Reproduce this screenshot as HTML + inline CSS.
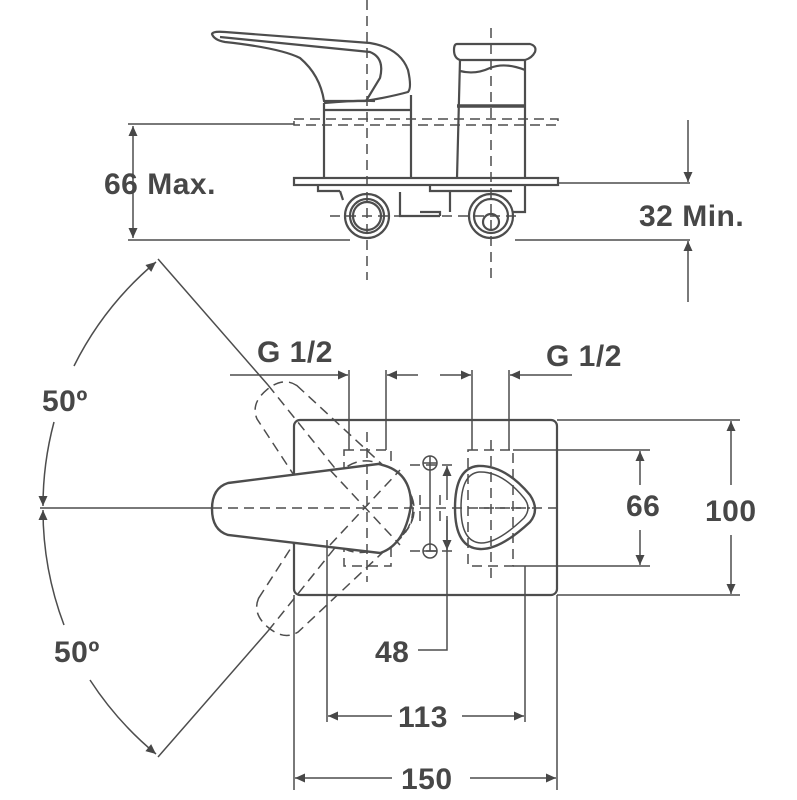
<!DOCTYPE html>
<html><head><meta charset="utf-8"><style>
html,body{margin:0;padding:0;background:#fff}
svg{display:block}
text{font-family:"Liberation Sans",sans-serif;font-weight:bold;fill:#474747;letter-spacing:0.5px}
</style></head><body>
<svg width="797" height="800" viewBox="0 0 797 800" xmlns="http://www.w3.org/2000/svg">
<defs>
<marker id="a" viewBox="0 0 10 10" refX="10" refY="5" markerWidth="22" markerHeight="10" markerUnits="userSpaceOnUse" orient="auto-start-reverse"><path d="M0,0.5 L10,5 L0,9.5 Z" fill="#474747"/></marker>
</defs>
<g stroke="#4d4d4d" fill="none" stroke-width="1.5">
<!-- TOP VIEW -->
<line x1="367" y1="0" x2="367" y2="280" stroke-dasharray="10,6"/>
<line x1="491" y1="28" x2="491" y2="280" stroke-dasharray="10,6"/>
<line x1="128" y1="124" x2="294" y2="124"/>
<line x1="128" y1="240" x2="350" y2="240"/>
<line x1="515" y1="240" x2="690" y2="240"/>
<line x1="558" y1="183" x2="690" y2="183"/>
<line x1="133" y1="126" x2="133" y2="238" marker-start="url(#a)" marker-end="url(#a)"/>
<line x1="688" y1="120" x2="688" y2="182" marker-end="url(#a)"/>
<line x1="688" y1="302" x2="688" y2="241" marker-end="url(#a)"/>
<g stroke-width="2.2">
<path d="M212,34 Q213,31 225,32 L370,43 Q400,48 408,70 Q412,88 408,92 Q390,97 365,101 L324,101 Q320,75 300,58 Q280,48 225,42 Q214,40 212,34 Z"/>
<path d="M220,37 L370,52 Q385,58 380,78 L366,101"/>
<path d="M324,103 L324,178 M411,95 L411,178 M324,110 L411,110 M324,103 Q360,100 375,101"/>
<path d="M457,44 L530,44 Q537,46 535,52 Q532,58 525,60 L460,60 Q454,58 454,50 Q454,44 457,44 Z"/>
<path d="M460,60 L457,178 M525,60 L525,178 M460,71 Q475,75 490,68 Q505,62 525,70"/>
<line x1="457" y1="106" x2="525" y2="106" stroke-width="3.5"/>
<rect x="294" y="178" width="264" height="7"/>
<path d="M318,185 L318,191 L340,191 M430,185 L430,191 L512,191 M450,191 L450,212 M525,185 L525,212 L512,212 M340,191 L343,200 M400,192 L400,216 L440,216 M420,212 L440,212 L440,216"/>
<circle cx="367" cy="216" r="22"/><circle cx="367" cy="216" r="17"/><circle cx="367" cy="216" r="14"/>
<circle cx="491" cy="216" r="22"/><circle cx="491" cy="216" r="17"/><circle cx="491" cy="222" r="8"/>
</g>
<rect x="294" y="119" width="264" height="6" stroke-dasharray="10,6"/>
<line x1="330" y1="216" x2="520" y2="216" stroke-dasharray="10,6"/>

<!-- BOTTOM VIEW -->
<line x1="40" y1="508" x2="212" y2="508"/>
<line x1="212" y1="508" x2="560" y2="508" stroke-dasharray="10,6"/>
<rect x="294" y="420" width="263" height="175" rx="6" stroke-width="2.2"/>
<line x1="158" y1="259" x2="268" y2="385"/>
<line x1="158" y1="757" x2="268" y2="631"/>
<line x1="268" y1="385" x2="367" y2="508" stroke-dasharray="10,6"/>
<line x1="268" y1="631" x2="367" y2="508" stroke-dasharray="10,6"/>
<path d="M74,366 A325,325 0 0 1 156,262" marker-end="url(#a)"/>
<path d="M54,422 A325,325 0 0 0 43,506" marker-end="url(#a)"/>
<path d="M64,625 A325,325 0 0 1 43,510" marker-end="url(#a)"/>
<path d="M90,680 A325,325 0 0 0 156,754" marker-end="url(#a)"/>
<g stroke-dasharray="10,6">
<path transform="rotate(50 367 508)" d="M228,483 L378,464 Q411,470 411,505 Q405,545 380,553 L228,535 Q212,530 212,509 Q212,488 228,483 Z"/>
<path transform="rotate(-50 367 508)" d="M228,483 L378,464 Q411,470 411,505 Q405,545 380,553 L228,535 Q212,530 212,509 Q212,488 228,483 Z"/>
<circle cx="370" cy="508" r="43"/>
<rect x="344" y="450" width="47" height="116"/>
<rect x="468" y="450" width="45" height="116"/>
<line x1="367" y1="432" x2="367" y2="582"/>
<line x1="491" y1="440" x2="491" y2="578"/>
<path d="M410,465 L455,465 M410,551 L455,551 M420,495 L420,521 M440,495 L440,521"/>
</g>
<path d="M349,370 L349,450 M386,370 L386,450 M472,370 L472,450 M509,370 L509,450"/>
<line x1="230" y1="375" x2="348" y2="375" marker-end="url(#a)"/>
<line x1="418" y1="375" x2="387" y2="375" marker-end="url(#a)"/>
<line x1="440" y1="375" x2="471" y2="375" marker-end="url(#a)"/>
<line x1="572" y1="375" x2="510" y2="375" marker-end="url(#a)"/>
<path stroke-width="2.4" fill="#fff" d="M228,483 L378,464 Q411,470 411,505 Q405,545 380,553 L228,535 Q212,530 212,509 Q212,488 228,483 Z"/>
<path d="M367,464 L367,553" stroke-dasharray="10,6"/>
<line x1="212" y1="508" x2="411" y2="508" stroke-dasharray="10,6"/>
<path d="M330,470 L400,545 M330,545 L400,470" stroke-dasharray="10,6"/>
<path stroke-width="2.4" d="M478,466 Q455,468 455,508 Q455,548 480,549 Q500,550 530,522 Q540,510 530,495 Q505,465 478,466 Z"/>
<path d="M479,472 Q461,474 461,508 Q461,542 481,543 Q498,543 524,518 Q532,508 524,498 Q502,471 479,472 Z"/>
<line x1="479" y1="508" x2="530" y2="508" stroke-dasharray="10,6"/>
<circle cx="430" cy="463" r="7"/><circle cx="430" cy="551" r="7"/>
<path d="M430,456 L430,551 M423,463 L437,463 M423,551 L437,551"/>
<line x1="447" y1="500" x2="447" y2="466" marker-end="url(#a)"/>
<line x1="447" y1="516" x2="447" y2="550" marker-end="url(#a)"/>
<path d="M447,520 L447,650 L418,650"/>
<path d="M513,450 L650,450 M513,566 L650,566 M557,420 L740,420 M557,595 L740,595"/>
<line x1="640" y1="485" x2="640" y2="451" marker-end="url(#a)"/>
<line x1="640" y1="530" x2="640" y2="565" marker-end="url(#a)"/>
<line x1="731" y1="485" x2="731" y2="421" marker-end="url(#a)"/>
<line x1="731" y1="535" x2="731" y2="594" marker-end="url(#a)"/>
<path d="M327,540 L327,722 M525,566 L525,722 M294,595 L294,790 M557,595 L557,790"/>
<line x1="392" y1="716" x2="328" y2="716" marker-end="url(#a)"/>
<line x1="462" y1="716" x2="524" y2="716" marker-end="url(#a)"/>
<line x1="392" y1="778" x2="295" y2="778" marker-end="url(#a)"/>
<line x1="470" y1="778" x2="556" y2="778" marker-end="url(#a)"/>
</g>
<g font-size="30">
<text x="104" y="194">66 Max.</text>
<text x="639" y="226">32 Min.</text>
<text x="257" y="362">G 1/2</text>
<text x="546" y="366">G 1/2</text>
<text x="42" y="411">50º</text>
<text x="54" y="662">50º</text>
<text x="375" y="662">48</text>
<text x="626" y="516">66</text>
<text x="705" y="521">100</text>
<text x="398" y="727">113</text>
<text x="401" y="789">150</text>
</g>
</svg>
</body></html>
